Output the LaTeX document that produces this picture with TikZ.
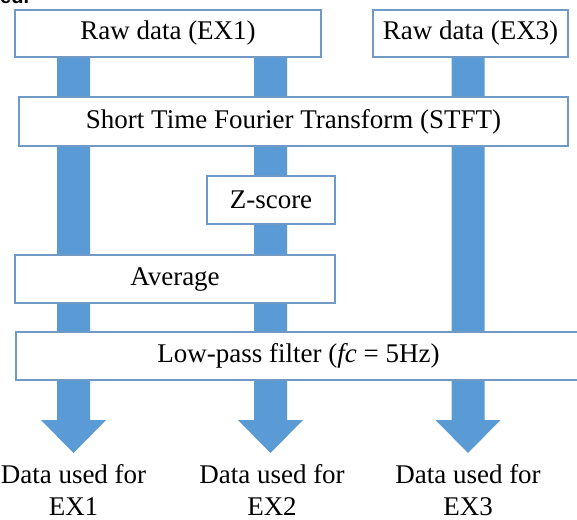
\documentclass[tikz,border=0pt]{standalone}
\usepackage{fontspec}
\setmainfont{Liberation Serif}
\newfontfamily\capfont{Liberation Sans}
\usetikzlibrary{calc}
\pgfdeclarelayer{background}
\pgfsetlayers{background,main}
\definecolor{flowblue}{HTML}{5B9BD5}
\definecolor{boxedge}{HTML}{7099C6}

% thick block arrow from a start point down to a tip
\newcommand\flowarrow[2]{%
  \fill[flow] ($(#1)+(-16.5,0)$) -- ($(#2)+(-16.5,-33)$) -- ($(#2)+(-32.5,-33)$)
    -- (#2) -- ($(#2)+(32.5,-33)$) -- ($(#2)+(16.5,-33)$) -- ($(#1)+(16.5,0)$) -- cycle;}

\begin{document}
\begin{tikzpicture}[x=1pt,y=-1pt,
  stage/.style={draw=boxedge, line width=1.1pt, fill=white, inner sep=0pt,
    font=\fontsize{27}{31}\selectfont},
  flow/.style={fill=flowblue},
  result/.style={align=center, inner sep=0pt, font=\fontsize{27}{32}\selectfont}]
\clip (0,0) rectangle (577,519);

% fragment of the caption above
\node[anchor=base west, inner sep=0pt, font=\capfont\bfseries\fontsize{20}{20}\selectfont] (frag) at (0,4) {ed.};

% processing stages
\node[stage, minimum width=306pt, minimum height=47pt] (raw1) at (168,33.5) {Raw data (EX1)};
\node[stage, minimum width=195pt, minimum height=47pt] (raw3) at (470.5,33.5) {Raw data (EX3)};
\node[stage, minimum width=549pt, minimum height=49pt] (stft) at (293.5,121.5) {Short Time Fourier Transform (STFT)};
\node[stage, minimum width=128pt, minimum height=48pt] (zs) at (271,200) {Z-score};
\node[stage, minimum width=320pt, minimum height=48pt] (avg) at (175,279) {Average};
\node[stage, minimum width=565pt, minimum height=48pt] (lpf) at (298.5,356) {Low-pass filter (\textit{fc} = 5Hz)};

% arrow tips and outputs
\coordinate (tip1) at (73.5,453);
\coordinate (tip2) at (270.5,453);
\coordinate (tip3) at (468,453);
\node[result] (out1) at (73.5,490) {Data used for\\EX1};
\node[result] (out2) at (272,490) {Data used for\\EX2};
\node[result] (out3) at (468,490) {Data used for\\EX3};

\begin{pgfonlayer}{background}
  \fill[white] (0,0) rectangle (577,519);
  \flowarrow{raw1.south -| tip1}{tip1}
  \flowarrow{raw1.south -| tip2}{tip2}
  \flowarrow{raw3.south -| tip3}{tip3}
\end{pgfonlayer}
\end{tikzpicture}
\end{document}
